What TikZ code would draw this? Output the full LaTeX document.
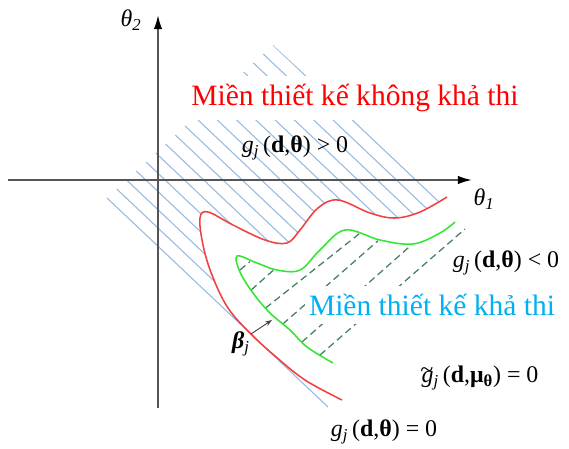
\documentclass[tikz,border=0pt]{standalone}
\usepackage{fontspec}
\setmainfont{Liberation Serif}
\usetikzlibrary{arrows.meta,calc}

\definecolor{hatchblue}{RGB}{150,186,224}
\definecolor{curvered}{RGB}{242,64,64}
\definecolor{curvegreen}{RGB}{50,230,50}
\definecolor{dashgreen}{RGB}{70,128,96}
\definecolor{textblue}{RGB}{0,176,240}
\definecolor{axisgray}{RGB}{85,85,85}

\newcommand{\gsub}{\textit{g}\textsubscript{\textit{j}}\,}
\newcommand{\gtil}{\textit{g}\llap{\raisebox{0.22em}{\textit{\~{}}}\hspace{0.02em}}}

\begin{document}
\begin{tikzpicture}[every node/.style={font=\fontsize{17}{20}\selectfont},
    axis/.style={draw=axisgray, line width=1.4pt, -{Latex[length=10pt,width=6pt,color=black]}},
    hatch/.style={hatchblue, line width=0.75pt},
    feasdash/.style={dashgreen, line width=0.9pt, dash pattern=on 5pt off 3pt},
    limit/.style={line width=1.1pt},
    region/.style={fill=white, inner xsep=3pt, inner ysep=6pt, font=\fontsize{21}{25}\selectfont}]
  \useasboundingbox (-3.95,-6.725) rectangle (10.275,4.5);

  % hatching on the unsafe side
  \coordinate (low) at (-1.275,-0.45);
  \coordinate (apex) at (2.875,3.375);
  \begin{scope}
    \clip plot[smooth, tension=0.6] coordinates {(7.225,-0.425) (6.55,-0.8) (5.925,-0.95) (5.3,-0.825) (4.5,-0.5) (4.0,-0.7) (3.55,-1.25) (3.225,-1.575) (2.675,-1.5) (1.875,-1.125) (1.25,-0.8) (1.05,-0.95) (1.125,-1.625) (1.35,-2.375) (1.75,-3.2) (2.325,-3.85)}
      -- (low) -- (apex) -- (7.45,-0.85) -- cycle;
    \foreach \i in {1,...,17}
      \draw[hatch] ($(low)!\i/17!(apex)$) -- ++(9,-8.51);
  \end{scope}
  \draw[hatch] (low) -- (4.25,-5.675);

  % axes
  \coordinate (xmin) at (-3.75,0);
  \coordinate (xmax) at (7.85,0);
  \coordinate (ymin) at (0,-5.7);
  \coordinate (ymax) at (0,4.125);
  \draw[axis] (xmin) -- (xmax);
  \draw[axis] (ymin) -- (ymax);
  \node (th1) at (8.15,-0.475) {\textit{θ}\textsubscript{\textit{1}}};
  \node (th2) at (-0.675,4.0) {\textit{θ}\textsubscript{\textit{2}}};

  % dashed hatching on the safe side
  \foreach \xa/\ya/\xb/\yb in {2.05/-2.25/2.3/-2.04, 2.33/-2.75/2.9/-2.24, 2.69/-3.2/5.05/-1.33,
      3.12/-3.6/5.5/-1.52, 3.6/-4.05/6.35/-1.61, 4.05/-4.375/7.675/-1.225}
    \draw[feasdash] (\xa,\ya) -- (\xb,\yb);

  % limit state curves
  \draw[limit, curvered] plot[smooth, tension=0.6] coordinates {(7.225,-0.425) (6.55,-0.8) (5.925,-0.95) (5.3,-0.825) (4.5,-0.5) (4.0,-0.7) (3.55,-1.25) (3.225,-1.575) (2.675,-1.5) (1.875,-1.125) (1.25,-0.8) (1.05,-0.95) (1.125,-1.625) (1.35,-2.375) (1.75,-3.2) (2.325,-3.85) (2.925,-4.4) (3.675,-5.0) (4.6,-5.5)};
  \draw[limit, curvegreen] plot[smooth, tension=0.6] coordinates {(7.425,-1.05) (7.05,-1.325) (6.375,-1.6) (5.55,-1.5) (4.675,-1.25) (4.05,-1.75) (3.55,-2.25) (2.975,-2.25) (2.475,-2.075) (1.975,-1.9) (2.05,-2.3) (2.375,-2.825) (2.8,-3.325) (3.3,-3.75) (3.725,-4.175) (4.375,-4.575)};

  % reliability index
  \coordinate (beta) at (2.325,-3.85);
  \coordinate (betaend) at (2.85,-3.5);
  \draw[-{Stealth[length=5pt,width=3.5pt]}, black!75, line width=0.6pt] (beta) -- (betaend);
  \node (betalbl) at (2.075,-4.1) {\textbf{\textit{β}}\textsubscript{\textit{j}}};

  % regions and labels
  \node[region, text=red] (unsafe) at (4.925,2.05) {Miền thiết kế không khả thi};
  \node (gpos) at (3.425,0.8) {\gsub(\textbf{d},\textbf{θ}) > 0};
  \node (gneg) at (8.7,-2.075) {\gsub(\textbf{d},\textbf{θ}) < 0};
  \node[region, text=textblue] (safe) at (6.85,-3.125) {Miền thiết kế khả thi};
  \node (gmean) at (8.05,-4.95) {\gtil\textsubscript{\textit{j}}\,(\textbf{d},\textbf{μ}\textsubscript{\textbf{θ}}) = 0};
  \node (gzero) at (5.65,-6.3) {\gsub(\textbf{d},\textbf{θ}) = 0};
\end{tikzpicture}
\end{document}
